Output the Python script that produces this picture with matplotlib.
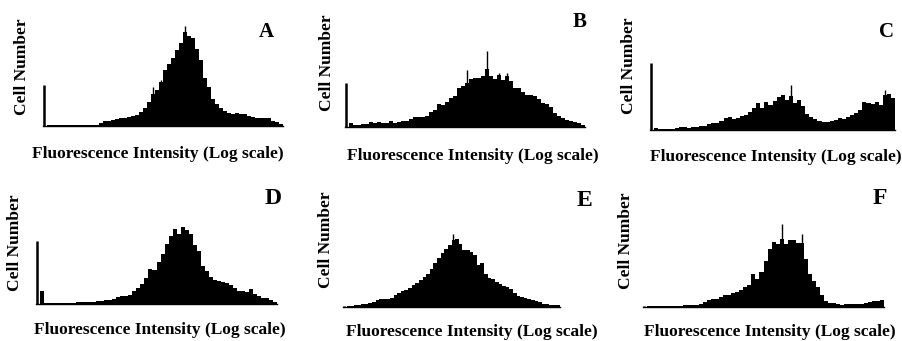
import matplotlib.pyplot as plt

# bin heights (cell counts, arbitrary units), 60 channels
counts_a = [41, 1, 1, 1, 1, 1, 1, 1, 1, 1, 1, 1, 1, 1, 3, 5, 5, 6, 7, 8,
            8, 9, 10, 11, 14, 18, 24, 32, 36, 44, 56, 62, 68, 76, 83, 94, 90, 88, 77, 66,
            48, 39, 27, 22, 18, 15, 13, 12, 13, 12, 12, 10, 9, 8, 8, 8, 8, 5, 4, 2]
counts_b = [44, 4, 2, 2, 3, 3, 5, 4, 5, 4, 4, 6, 4, 5, 6, 6, 8, 10, 10, 10,
            11, 15, 17, 23, 22, 25, 29, 31, 39, 41, 44, 48, 49, 49, 51, 58, 51, 48, 52, 47,
            51, 46, 39, 39, 35, 32, 32, 31, 28, 24, 23, 20, 14, 11, 9, 7, 6, 5, 4, 2]
counts_c = [67, 2, 1, 1, 1, 1, 2, 3, 3, 2, 3, 3, 4, 4, 6, 7, 7, 9, 12, 13,
            11, 12, 14, 15, 18, 22, 27, 22, 28, 25, 29, 33, 35, 30, 34, 27, 30, 24, 16, 13,
            11, 9, 8, 8, 9, 10, 12, 11, 13, 15, 17, 20, 28, 27, 26, 28, 25, 35, 36, 32]
counts_d = [63, 13, 1, 1, 1, 1, 1, 1, 1, 1, 2, 2, 2, 2, 2, 3, 3, 4, 4, 5,
            7, 8, 8, 9, 13, 16, 20, 26, 35, 34, 42, 50, 60, 68, 75, 70, 77, 74, 70, 59,
            53, 38, 33, 27, 24, 23, 22, 21, 19, 16, 13, 13, 12, 15, 10, 8, 6, 6, 4, 2]
counts_e = [1, 1, 1, 2, 2, 3, 3, 4, 5, 7, 8, 8, 8, 9, 12, 14, 16, 17, 19, 22,
            24, 27, 30, 33, 38, 44, 49, 54, 58, 62, 67, 68, 63, 57, 57, 55, 52, 42, 44, 33,
            29, 28, 25, 23, 21, 20, 18, 14, 11, 10, 9, 8, 7, 6, 5, 3, 3, 2, 2, 2]
counts_f = [1, 1, 1, 1, 1, 1, 1, 1, 1, 1, 2, 2, 2, 2, 3, 5, 7, 8, 8, 10,
            12, 12, 14, 15, 17, 20, 22, 33, 28, 35, 46, 58, 65, 63, 68, 63, 67, 67, 64, 64,
            48, 33, 26, 20, 12, 6, 4, 4, 3, 2, 3, 3, 3, 3, 3, 4, 5, 6, 6, 7]

# single tall channels standing above the neighbouring bins: (channel, height)
spikes_a = [(35, 100), (29, 46), (27, 39)]
spikes_b = [(35, 76), (30, 57), (38, 54), (40, 54)]
spikes_c = [(34, 45), (57, 40)]
spikes_d = []
spikes_e = [(30, 73)]
spikes_f = [(34, 83), (39, 73)]

panel_labels = ["A", "B", "C", "D", "E", "F"]
xlabel_text = "Fluorescence Intensity (Log scale)"
ylabel_text = "Cell Number"

W, H = 902, 341
plt.rcParams['font.family'] = ['Liberation Serif', 'DejaVu Serif']

fig = plt.figure(figsize=(W / 100, H / 100), dpi=100)

# (left px, right px, baseline px) for each panel, plus text anchor points
boxes = [(43, 283, 126), (345, 585, 127), (650, 895, 130),
         (36, 277, 304), (343, 560, 307), (643, 884, 307)]
letter_pos = [(266, 32), (580, 22), (886, 32), (273, 198), (584, 200), (880, 198)]
letter_size = [15, 15, 15, 17, 17, 17]
ylab_pos = [(22, 67), (327, 63), (629, 66), (15, 243), (326, 240), (626, 241)]
xlab_pos = [(158, 154), (473, 156), (776, 157), (160, 330), (472, 332), (770, 332)]

all_counts = [counts_a, counts_b, counts_c, counts_d, counts_e, counts_f]
all_spikes = [spikes_a, spikes_b, spikes_c, spikes_d, spikes_e, spikes_f]

AX_H = 110
for k in range(6):
    x0, x1, base = boxes[k]
    ax = fig.add_axes([x0 / W, (H - base) / H, (x1 - x0) / W, AX_H / H])
    counts = all_counts[k]
    chans = list(range(len(counts)))
    # first channel (debris / off-scale events) is a thin line in the scan
    ax.bar(chans[1:], counts[1:], width=1.0, color="black", linewidth=0)
    ax.vlines(chans[0] - 0.2, 0, counts[0], color="black", linewidth=1.8)
    for ch, h in all_spikes[k]:
        ax.vlines(ch, 0, h, color="black", linewidth=1.0)
    ax.set_xlim(-0.5, len(counts) - 0.5)
    ax.set_ylim(0, AX_H)
    for side in ["top", "right", "left"]:
        ax.spines[side].set_visible(False)
    ax.spines["bottom"].set_linewidth(1.0)
    ax.set_xticks([])
    ax.set_yticks([])
    ax.patch.set_alpha(0)

    lx, ly = letter_pos[k]
    fig.text(lx / W, 1 - ly / H, panel_labels[k], fontsize=letter_size[k],
             fontweight="bold", ha="center", va="center")
    yx, yy = ylab_pos[k]
    fig.text(yx / W, 1 - yy / H, ylabel_text, fontsize=12.5, fontweight="bold",
             rotation=90, ha="center", va="center")
    tx, ty = xlab_pos[k]
    fig.text(tx / W, 1 - ty / H, xlabel_text, fontsize=12.5, fontweight="bold",
             ha="center", va="center")

fig.savefig("out.png", dpi=100, facecolor="white")
